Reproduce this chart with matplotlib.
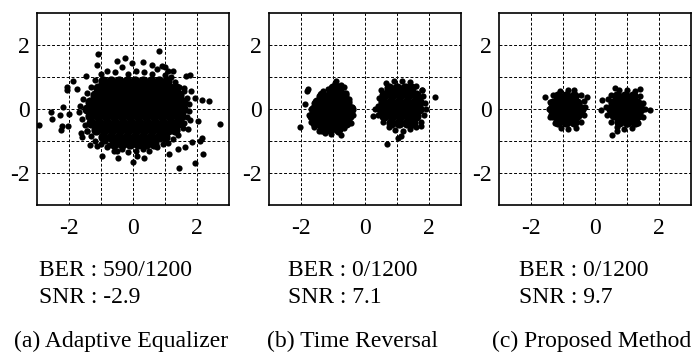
import matplotlib
matplotlib.use("Agg")
import matplotlib.pyplot as plt

plt.rcParams['font.family'] = ['Liberation Serif', 'DejaVu Serif']

# ---- panel (a): adaptive equalizer, one big cloud ----
# dense part, read row by row (y, then the x positions in that row)
a_core_y = [0.88, 0.66, 0.44, 0.22, 0.0, -0.22, -0.44, -0.66, -0.88, -1.08]
a_core_x = [
    [-0.95, -0.7, -0.45, -0.2, 0.05, 0.3, 0.55, 0.8, 1.05],
    [-1.1, -0.85, -0.6, -0.35, -0.1, 0.15, 0.4, 0.65, 0.9, 1.15, 1.35],
    [-1.2, -0.95, -0.7, -0.45, -0.2, 0.05, 0.3, 0.55, 0.8, 1.05, 1.3, 1.45],
    [-1.35, -1.1, -0.85, -0.6, -0.35, -0.1, 0.15, 0.4, 0.65, 0.9, 1.15, 1.4, 1.55],
    [-1.45, -1.2, -0.95, -0.7, -0.45, -0.2, 0.05, 0.3, 0.55, 0.8, 1.05, 1.3, 1.55],
    [-1.35, -1.1, -0.85, -0.6, -0.35, -0.1, 0.15, 0.4, 0.65, 0.9, 1.15, 1.4, 1.5],
    [-1.3, -1.05, -0.8, -0.55, -0.3, -0.05, 0.2, 0.45, 0.7, 0.95, 1.2, 1.4],
    [-1.15, -0.9, -0.65, -0.4, -0.15, 0.1, 0.35, 0.6, 0.85, 1.1, 1.3],
    [-0.95, -0.7, -0.45, -0.2, 0.05, 0.3, 0.55, 0.8, 1.0],
    [-0.6, -0.35, -0.1, 0.15, 0.4, 0.65],
]
# edge and outlying symbols
a_pts_x = [-1.0, -0.8, -0.55, -0.35, -0.15, 0.1, 0.35, 0.6, 0.75, 1.0, 1.2, 1.1,
           -1.2, -1.3, -1.45, -1.55, -1.65, -1.7, -1.6, -1.5, -1.45, -1.3, -1.2,
           1.3, 1.45, 1.6, 1.7, 1.75, 1.75, 1.7, 1.6, 1.55, 1.4, 1.25,
           -1.0, -0.8, -0.6, -0.35, -0.15, 0.1, 0.3, 0.5, 0.75, 0.95, 1.1,
           -2.93, 2.72, 0.8, -1.09, -0.26, -0.5, 0.3, -0.03, -1.12, 0.59, 0.9,
           1.0, 1.26, 1.78, 1.65, -1.48, -1.88, -2.07, -2.05, -1.74, 1.58, 1.81,
           2.15, 2.37, 1.94, -2.19, -2.55, -2.52, -2.28, -2.0, -2.21, -2.26, -2.03,
           2.04, 1.78, 1.71, 2.15, 2.09, 1.83, 1.63, 1.42, 2.2, 1.94, 1.45, 1.11,
           0.33, 0.12, -0.01, -0.47, -0.5, -0.96, -1.12, -1.33, -1.59, -1.64, -1.43,
           -0.76, -0.88]
a_pts_y = [1.1, 1.2, 1.15, 1.3, 1.1, 1.2, 1.15, 1.1, 1.25, 1.05, 1.0, 1.2,
           0.9, 0.7, 0.5, 0.3, 0.1, -0.1, -0.3, -0.5, -0.7, -0.85, -1.0,
           0.85, 0.7, 0.55, 0.35, 0.15, -0.05, -0.25, -0.45, -0.6, -0.8, -0.95,
           -1.1, -1.2, -1.3, -1.25, -1.35, -1.3, -1.25, -1.3, -1.2, -1.1, -1.05,
           -0.49, -0.47, 1.81, 1.71, 1.59, 1.5, 1.48, 1.45, 1.38, 1.38, 1.33,
           1.3, 1.2, 1.07, 1.04, 1.02, 0.89, 0.68, 0.6, 0.62, 0.65, 0.55,
           0.29, 0.26, 0.33, 0.06, -0.09, -0.31, -0.2, -0.16, -0.52, -0.66, -0.54,
           -0.38, -0.33, -0.64, -0.9, -1.0, -1.04, -1.18, -1.24, -1.4, -1.68, -1.83, -1.4,
           -1.52, -1.47, -1.65, -1.54, -1.32, -1.47, -1.16, -1.11, -0.87, -0.75, -0.69,
           -1.14, -1.0]

# ---- panel (b): time reversal, two clusters ----
b_core_y = [0.66, 0.44, 0.22, 0.0, -0.22, -0.44, -0.62]
b_core_x = [
    [-1.0, -0.8, 0.75, 1.0, 1.25, 1.45],
    [-1.35, -1.1, -0.85, -0.65, 0.6, 0.85, 1.1, 1.35, 1.6],
    [-1.5, -1.25, -1.0, -0.75, -0.55, 0.55, 0.8, 1.05, 1.3, 1.55, 1.7],
    [-1.6, -1.35, -1.1, -0.85, -0.6, -0.45, 0.5, 0.75, 1.0, 1.25, 1.5, 1.7],
    [-1.65, -1.45, -1.2, -0.95, -0.7, -0.5, 0.6, 0.85, 1.1, 1.35, 1.6],
    [-1.55, -1.3, -1.05, -0.8, -0.6, 0.8, 1.05, 1.3, 1.5],
    [-1.35, -1.1, -0.85],
]
b_pts_x = [-0.9, -0.95, -0.75, -1.15, -1.3, -1.45, -1.6, -1.7, -1.75, -1.7, -1.6,
           -1.45, -1.25, -1.05, -0.85, -0.65, -0.45, -0.38, -0.42, -0.5, -0.6,
           -1.81, -1.79, -1.87, -2.02, -0.75, -0.67, -0.45,
           0.65, 0.9, 1.15, 1.4, 1.6, 1.78, 1.8, 1.88, 1.9, 1.85, 1.76, 1.6, 1.4,
           1.2, 0.95, 0.75, 0.55, 0.42, 0.4, 0.45, 0.5,
           2.18, 0.69, 1.04, 1.14, 0.31, 0.26, 1.78, 1.76]
b_pts_y = [0.88, 0.8, 0.75, 0.62, 0.55, 0.4, 0.2, 0.0, -0.2, -0.4, -0.55,
           -0.7, -0.75, -0.78, -0.72, -0.6, -0.45, -0.2, 0.05, 0.3, 0.5,
           0.55, 0.63, 0.16, -0.57, -0.8, 0.68, -0.18,
           0.8, 0.87, 0.88, 0.85, 0.72, 0.6, 0.4, 0.2, 0.0, -0.2, -0.4, -0.55, -0.62,
           -0.68, -0.65, -0.55, -0.4, -0.2, 0.1, 0.35, 0.6,
           0.36, -1.09, -0.9, -0.85, 0.0, -0.21, 0.6, -0.52]

# ---- panel (c): proposed method, two tight clusters ----
c_core_y = [0.4, 0.2, 0.0, -0.2, -0.4]
c_core_x = [
    [-1.15, -0.9, -0.65, 0.7, 0.95, 1.2],
    [-1.3, -1.05, -0.8, -0.55, 0.55, 0.8, 1.05, 1.3],
    [-1.35, -1.1, -0.85, -0.6, -0.45, 0.5, 0.75, 1.0, 1.25, 1.4],
    [-1.3, -1.05, -0.8, -0.55, 0.6, 0.85, 1.1, 1.35],
    [-1.15, -0.9, -0.65, 0.75, 1.0, 1.25],
]
c_pts_x = [-1.3, -1.1, -0.85, -0.65, -0.45, -0.35, -0.32, -0.35, -0.45, -0.6,
           -0.85, -1.05, -1.25, -1.4, -1.45, -1.42, -1.56, -0.26,
           0.5, 0.75, 1.0, 1.25, 1.4, 1.5, 1.55, 1.5, 1.35, 1.15, 0.9, 0.7, 0.5,
           0.38, 0.35, 0.4, 1.73, 0.54, 0.7, 0.64, 1.42, 0.2, 0.23]
c_pts_y = [0.45, 0.55, 0.6, 0.58, 0.45, 0.25, 0.05, -0.2, -0.42, -0.58,
           -0.62, -0.58, -0.45, -0.25, 0.0, 0.22, 0.39, 0.36,
           0.45, 0.58, 0.6, 0.55, 0.4, 0.2, 0.0, -0.25, -0.45, -0.6, -0.62, -0.55, -0.4,
           -0.2, 0.05, 0.3, -0.02, -0.8, -0.7, 0.65, 0.62, -0.02, 0.29]

ber = ["590/1200", "0/1200", "0/1200"]
snr = ["-2.9", "7.1", "9.7"]
captions = ["(a) Adaptive Equalizer", "(b) Time Reversal", "(c) Proposed Method"]

panels = [(a_core_y, a_core_x, a_pts_x, a_pts_y),
          (b_core_y, b_core_x, b_pts_x, b_pts_y),
          (c_core_y, c_core_x, c_pts_x, c_pts_y)]

fig = plt.figure(figsize=(6.96, 3.6), dpi=100)
lefts = [37, 269, 499]
text_x = [39, 288, 519]
cap_x = [121, 352, 592]

for i, (core_y, core_x, px, py) in enumerate(panels):
    ax = fig.add_axes([lefts[i] / 696, 155 / 360, 192 / 696, 192 / 360])
    cx, cy = [], []
    for y, xs in zip(core_y, core_x):
        cx += xs
        cy += [y] * len(xs)
    ax.scatter(cx, cy, s=55, c='black', linewidths=0, zorder=3)
    ax.scatter(px, py, s=20, c='black', linewidths=0, zorder=3)
    ax.set_xlim(-3, 3)
    ax.set_ylim(-3, 3)
    ax.set_xticks([-2, -1, 0, 1, 2])
    ax.set_yticks([-2, -1, 0, 1, 2])
    ax.set_xticklabels(['-2', '', '0', '', '2'])
    ax.set_yticklabels(['-2', '', '0', '', '2'])
    ax.tick_params(length=0, labelsize=17)
    ax.tick_params(axis='x', pad=9)
    ax.tick_params(axis='y', pad=5)
    ax.grid(True, color='black', linestyle=(0, (3, 2)), linewidth=0.7)
    ax.set_axisbelow(True)
    for sp in ax.spines.values():
        sp.set_linewidth(1.2)

    fig.text(text_x[i] / 696, (360 - 276) / 360, "BER : " + ber[i],
             fontsize=17, va='baseline', ha='left')
    fig.text(text_x[i] / 696, (360 - 303) / 360, "SNR : " + snr[i],
             fontsize=17, va='baseline', ha='left')
    fig.text(cap_x[i] / 696, (360 - 347) / 360, captions[i],
             fontsize=17, va='baseline', ha='center')

fig.savefig("out.png", dpi=100)
